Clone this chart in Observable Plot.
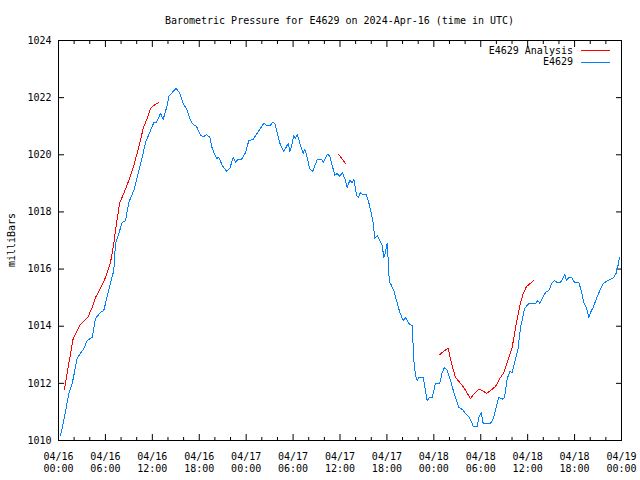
<!DOCTYPE html>
<html><head><meta charset="utf-8">
<script src="https://cdn.jsdelivr.net/npm/d3@7"></script>
<script src="https://cdn.jsdelivr.net/npm/@observablehq/plot@0.6"></script>
<style>
body{margin:0;background:#fff;}
#wrap{position:relative;width:640px;height:480px;font-family:"DejaVu Sans Mono",monospace;font-size:10px;color:#000;overflow:hidden;}
#wrap svg{position:absolute;left:0;top:0;}
.t{position:absolute;line-height:10px;white-space:pre;}
.sw{position:absolute;height:0;border-top:1px solid;}
</style></head><body>
<div id="wrap"></div>
<script>
const title = "Barometric Pressure for E4629 on 2024-Apr-16 (time in UTC)";
const yLabel = "milliBars";
const seriesNames = ["E4629 Analysis", "E4629"];
const seriesColors = ["#ff0000", "#0080ff"];
const startUTC = Date.UTC(2024, 3, 16);

// Observed series: hours since 2024-04-16 00:00 UTC, pressure (mb)
const obsHours = [0.26,0.68,1.32,1.75,2.39,2.81,3.24,3.67,4.31,4.73,5.37,5.79,6.65,7.07,7.29,7.71,8.15,8.57,8.99,9.63,10.27,10.70,11.13,11.77,12.19,12.53,13.04,13.39,13.90,14.11,14.54,15.05,15.51,15.95,16.46,16.88,17.23,17.65,18.16,18.58,18.93,19.35,19.66,20.21,20.50,20.94,21.49,21.91,22.34,22.64,22.93,23.40,23.92,24.34,24.90,25.41,25.92,26.26,26.60,27.11,27.37,27.66,28.05,28.39,28.81,29.16,29.38,29.58,29.76,30.09,30.31,30.53,30.95,31.29,31.50,31.81,32.10,32.52,33.09,33.63,33.85,34.36,34.66,35.00,35.34,35.64,35.98,36.28,36.62,36.92,37.25,37.56,37.77,38.11,38.33,38.62,38.84,39.35,39.68,39.99,40.25,40.45,40.76,40.96,41.18,41.40,41.60,41.82,41.95,42.04,42.11,42.24,42.33,42.46,42.88,43.23,43.65,44.08,44.38,44.80,45.23,45.44,45.66,45.87,46.08,46.64,46.85,47.15,47.48,47.79,48.21,48.76,49.07,49.37,49.71,50.13,50.56,50.90,51.19,51.63,52.05,52.47,52.78,53.04,53.55,53.75,54.06,54.31,55.25,55.67,56.02,56.31,56.75,57.04,57.39,57.72,58.02,58.45,58.74,59.09,59.60,60.15,61.00,61.30,61.55,61.86,62.28,62.70,63.14,63.43,63.78,64.20,64.55,64.75,64.97,65.26,65.61,65.99,66.54,66.85,67.18,67.53,67.82,68.04,68.38,68.81,69.23,69.66,70.09,70.60,71.02,71.37,71.53,71.75];
const obsValues = [1010.18,1010.70,1011.65,1011.99,1012.87,1013.05,1013.22,1013.50,1013.61,1014.27,1014.48,1014.55,1015.50,1015.95,1016.90,1017.25,1017.63,1017.70,1018.33,1018.75,1019.45,1019.91,1020.43,1020.85,1021.13,1021.13,1021.45,1021.24,1021.73,1022.04,1022.18,1022.32,1022.15,1021.80,1021.55,1021.20,1021.06,1020.99,1020.68,1020.64,1020.71,1020.61,1020.22,1019.87,1019.91,1019.63,1019.42,1019.52,1019.91,1019.73,1019.84,1019.84,1020.08,1020.50,1020.54,1020.75,1020.96,1021.10,1021.03,1021.03,1021.13,1021.10,1020.68,1020.33,1020.12,1020.29,1020.40,1020.12,1020.26,1020.68,1020.57,1020.71,1020.33,1020.05,1020.19,1019.91,1019.52,1019.42,1019.84,1019.84,1019.73,1020.01,1019.98,1019.63,1019.28,1019.35,1019.24,1019.38,1019.17,1018.86,1019.10,1019.03,1019.14,1018.58,1018.51,1018.68,1018.61,1018.61,1018.33,1017.98,1017.59,1017.07,1017.17,1017.07,1016.93,1016.83,1016.41,1016.58,1016.83,1016.90,1016.58,1015.88,1015.53,1015.50,1015.25,1014.90,1014.48,1014.20,1014.30,1014.09,1014.02,1012.80,1012.28,1012.10,1012.21,1012.21,1011.86,1011.40,1011.51,1011.51,1012.00,1012.00,1012.38,1012.56,1012.45,1012.10,1011.68,1011.40,1011.16,1011.09,1010.95,1010.84,1010.67,1010.49,1010.49,1010.81,1010.98,1010.60,1010.60,1010.81,1011.23,1011.51,1011.44,1011.51,1012.17,1012.42,1012.38,1012.87,1013.15,1013.95,1014.62,1014.80,1014.80,1014.90,1014.80,1014.97,1015.18,1015.25,1015.53,1015.60,1015.53,1015.53,1015.71,1015.81,1015.60,1015.71,1015.71,1015.53,1015.53,1015.25,1014.83,1014.62,1014.30,1014.48,1014.66,1014.97,1015.25,1015.50,1015.57,1015.64,1015.71,1015.88,1016.09,1016.41];

// Analysis series (NaN marks a gap in the data)
const anaHours = [0.77,1.32,1.88,2.72,3.24,3.75,4.31,4.73,5.37,6.01,6.65,7.07,7.51,7.84,8.35,8.99,9.63,10.27,10.83,11.34,11.77,12.19,12.83,24.0,35.85,36.70,42.0,48.76,49.37,49.84,50.26,50.77,51.32,51.83,52.27,52.69,53.20,53.75,54.19,54.74,55.25,55.89,56.44,56.95,57.46,58.02,58.45,59.00,59.44,59.85,60.36,60.79];
const anaValues = [1011.79,1012.70,1013.57,1014.03,1014.17,1014.31,1014.66,1015.01,1015.32,1015.71,1016.23,1016.90,1017.77,1018.33,1018.65,1019.10,1019.63,1020.26,1020.92,1021.27,1021.62,1021.73,1021.83,NaN,1020.01,1019.70,NaN,1013.01,1013.15,1013.22,1012.70,1012.21,1012.03,1011.86,1011.65,1011.47,1011.65,1011.79,1011.75,1011.65,1011.75,1011.89,1012.17,1012.38,1012.80,1013.26,1013.95,1014.73,1015.15,1015.39,1015.50,1015.60];

const yTicks = [1010,1012,1014,1016,1018,1020,1022,1024];
const xTickHours = [0,6,12,18,24,30,36,42,48,54,60,66,72];
const xMinorHours = [2,4,8,10,14,16,20,22,26,28,32,34,38,40,44,46,50,52,56,58,62,64,68,70];

const toDate = h => new Date(startUTC + h * 3600e3);
const obs = obsHours.map((h, i) => ({t: toDate(h), v: obsValues[i]}));
const ana = anaHours.map((h, i) => ({t: toDate(h), v: anaValues[i]}));
const xTicks = xTickHours.map(toDate);
const xMinor = xMinorHours.map(toDate);
const fmt = d3.utcFormat("%m/%d\n%H:%M");
const blank = () => "";

const chart = Plot.plot({
  width: 640, height: 480,
  marginLeft: 58, marginRight: 19, marginTop: 40, marginBottom: 40,
  style: {fontFamily: "DejaVu Sans Mono, monospace", fontSize: "10px", color: "#000", background: "#fff"},
  x: {type: "utc", domain: [toDate(0), toDate(72)]},
  y: {domain: [1010, 1024]},
  marks: [
    Plot.axisX(xTicks, {anchor: "bottom", tickSize: -6, tickPadding: 17.5, tickFormat: fmt, lineHeight: 1.15, label: null, fill: "#000"}),
    Plot.axisX(xTicks, {anchor: "top", tickSize: -6, tickFormat: blank, label: null}),
    Plot.axisX(xMinor, {anchor: "bottom", tickSize: -3, tickFormat: blank, label: null}),
    Plot.axisX(xMinor, {anchor: "top", tickSize: -3, tickFormat: blank, label: null}),
    Plot.axisY(yTicks, {anchor: "left", tickSize: -6, tickPadding: 13, tickFormat: d => String(d), label: null, fill: "#000"}),
    Plot.axisY(yTicks, {anchor: "right", tickSize: -6, tickFormat: blank, label: null}),
    Plot.line(ana, {x: "t", y: "v", stroke: seriesColors[0], strokeWidth: 1, shapeRendering: "crispEdges"}),
    Plot.line(obs, {x: "t", y: "v", stroke: seriesColors[1], strokeWidth: 1, shapeRendering: "crispEdges"}),
    Plot.frame({stroke: "#000"})
  ]
});

const wrap = document.getElementById("wrap");
wrap.appendChild(chart);

function addText(txt, css) {
  const d = document.createElement("div");
  d.className = "t";
  d.textContent = txt;
  Object.assign(d.style, css);
  wrap.appendChild(d);
  return d;
}
addText(title, {left: "58px", width: "563px", textAlign: "center", top: "15.5px"});
addText(yLabel, {left: "-38.5px", width: "100px", textAlign: "center", top: "235px", transform: "rotate(-90deg)"});
// legend
const legendRows = [46, 57];
seriesNames.forEach((name, i) => {
  addText(name, {right: (640 - 573) + "px", top: legendRows[i] + "px", textAlign: "right"});
  const s = document.createElement("div");
  s.className = "sw";
  Object.assign(s.style, {left: "581px", width: "29px", top: (legendRows[i] + 4 + i) + "px", borderTopColor: seriesColors[i]});
  wrap.appendChild(s);
});
</script>
</body></html>
